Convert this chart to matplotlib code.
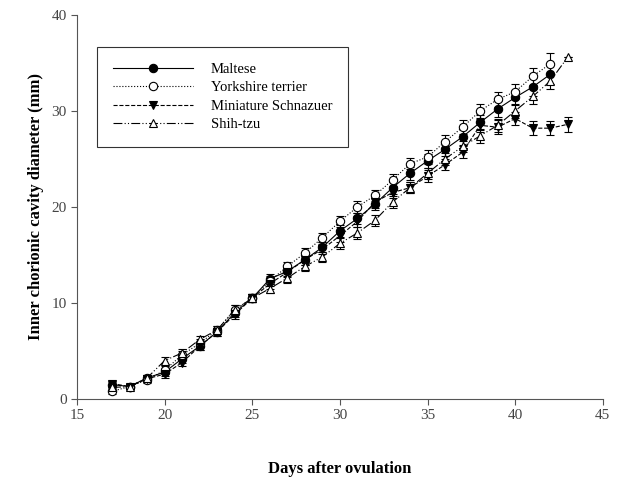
import numpy as np
import matplotlib.pyplot as plt

#Data
days = list(range(17, 44))

maltese = [1.5, 1.3, 2.2, 2.8, 4.2, 5.5, 7.0, 9.0, 10.5, 12.5, 13.3, 14.5, 15.8, 17.5,
           18.8, 20.3, 22.0, 23.5, 24.8, 26.0, 27.3, 28.8, 30.2, 31.4, 32.5, 33.8]
maltese_err = [0.3, 0.3, 0.3, 0.4, 0.4, 0.4, 0.4, 0.5, 0.4, 0.5, 0.5, 0.5, 0.5, 0.6,
               0.6, 0.6, 0.7, 0.7, 0.7, 0.7, 0.8, 0.8, 0.8, 0.8, 0.9, 1.0]

yorkshire = [0.8, 1.3, 2.0, 3.0, 4.6, 5.8, 7.2, 9.3, 10.5, 12.3, 13.8, 15.2, 16.8, 18.5,
             20.0, 21.2, 22.8, 24.5, 25.2, 26.8, 28.3, 30.0, 31.2, 32.0, 33.6, 34.9]
yorkshire_err = [0.3, 0.3, 0.3, 0.4, 0.4, 0.4, 0.4, 0.5, 0.4, 0.5, 0.5, 0.5, 0.5, 0.6,
                 0.6, 0.6, 0.6, 0.6, 0.7, 0.7, 0.7, 0.7, 0.8, 0.8, 0.9, 1.1]

schnauzer = [1.6, 1.3, 2.1, 2.6, 3.8, 5.5, 7.0, 8.8, 10.5, 12.0, 13.2, 14.5, 15.6, 17.0,
             18.5, 20.5, 21.5, 22.0, 23.2, 24.4, 25.7, 28.5, 28.3, 29.2, 28.2, 28.2, 28.6]
schnauzer_err = [0.3, 0.3, 0.3, 0.4, 0.4, 0.4, 0.4, 0.5, 0.4, 0.5, 0.5, 0.5, 0.5, 0.6,
                 0.6, 0.6, 0.6, 0.6, 0.6, 0.6, 0.6, 0.7, 0.7, 0.7, 0.7, 0.7, 0.8]

shihtzu = [1.2, 1.3, 2.2, 4.0, 4.8, 6.2, 7.2, 9.3, 10.5, 11.5, 12.6, 13.8, 14.8, 16.2,
           17.3, 18.6, 20.5, 22.0, 23.5, 25.0, 26.3, 27.4, 28.5, 30.0, 31.5, 33.1, 35.6]
shihtzu_err = [0.3, 0.3, 0.3, 0.4, 0.4, 0.4, 0.4, 0.5, 0.4, 0.5, 0.5, 0.5, 0.5, 0.6,
               0.6, 0.6, 0.6, 0.6, 0.6, 0.6, 0.6, 0.7, 0.7, 0.7, 0.8, 0.8, 0.0]

plt.rcParams['font.family'] = ['Liberation Serif', 'DejaVu Serif']

fig = plt.figure(figsize=(6.26, 4.79), dpi=100)
ax = fig.add_axes([0.123, 0.167, 0.84, 0.802])

common = dict(color="black", markersize=6, linewidth=0.8, elinewidth=0.8, capsize=3,
              markeredgecolor="black", markeredgewidth=0.8)

eb1 = ax.errorbar(days[:len(maltese)], maltese, yerr=maltese_err, fmt="o", linestyle="-",
                  markerfacecolor="black", label="Maltese", **common)
eb2 = ax.errorbar(days[:len(yorkshire)], yorkshire, yerr=yorkshire_err, fmt="o", linestyle=":",
                  markerfacecolor="white", label="Yorkshire terrier", **common)
eb3 = ax.errorbar(days[:len(schnauzer)], schnauzer, yerr=schnauzer_err, fmt="v", linestyle="--",
                  markerfacecolor="black", label="Miniature Schnazuer", **common)
eb4 = ax.errorbar(days[:len(shihtzu)], shihtzu, yerr=shihtzu_err, fmt="^",
                  linestyle=(0, (8, 2, 1, 2, 1, 2)), markerfacecolor="white",
                  label="Shih-tzu", **common)

ax.set_xlim(15, 45)
ax.set_ylim(0, 40)
ax.set_xticks(range(15, 46, 5))
ax.set_yticks(range(0, 41, 10))
ax.spines["top"].set_visible(False)
ax.spines["right"].set_visible(False)
ax.spines["left"].set_color("#555555")
ax.spines["bottom"].set_color("#555555")
ax.tick_params(direction="out", length=4, colors="#555555", labelsize=11, labelcolor="#444444")

ax.set_xlabel("Days after ovulation", fontsize=12, fontweight="bold", labelpad=28)
ax.set_ylabel("Inner chorionic cavity diameter (mm)", fontsize=12, fontweight="bold", labelpad=5)

handles = [eb1[0], eb2[0], eb3[0], eb4[0]]
labels = ["Maltese", "Yorkshire terrier", "Miniature Schnazuer", "Shih-tzu"]
leg = ax.legend(handles, labels, loc="upper left", bbox_to_anchor=(0.038, 0.917), frameon=True,
                fancybox=False, edgecolor="black", fontsize=10.5, handlelength=5.5,
                borderpad=1.1, labelspacing=0.35, handletextpad=1.2, borderaxespad=0)
leg.get_frame().set_linewidth(0.8)

plt.savefig("out.png", dpi=100)
plt.close()
